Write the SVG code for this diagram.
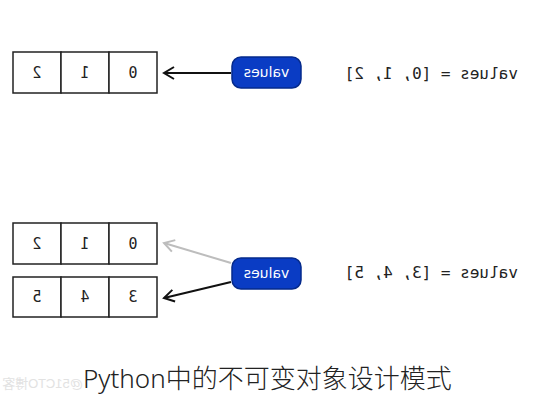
<svg xmlns="http://www.w3.org/2000/svg" width="533" height="400" viewBox="0 0 533 400">
<defs>
<style>
.cell{fill:#fff;stroke:#222;stroke-width:1.5}
.num{font-family:"DejaVu Sans Mono","Liberation Mono",monospace;font-size:15px;fill:#222;text-anchor:middle}
.code{font-family:"DejaVu Sans Mono","Liberation Mono",monospace;font-size:16px;fill:#222}
.pill{fill:#0a3cc4;stroke:#052a8c;stroke-width:1.5}
.pilltxt{font-family:"DejaVu Sans","Liberation Sans",sans-serif;font-size:14px;fill:#fff;text-anchor:middle}
.conn{fill:none;stroke-width:2}
</style>
<marker id="ahb" markerWidth="14" markerHeight="14" refX="11" refY="7" orient="auto" markerUnits="userSpaceOnUse">
<path d="M1,1 L11,7 L1,13" fill="none" stroke="#111" stroke-width="2"/>
</marker>
<marker id="ahg" markerWidth="14" markerHeight="14" refX="11" refY="7" orient="auto" markerUnits="userSpaceOnUse">
<path d="M1,1 L11,7 L1,13" fill="none" stroke="#bdbdbd" stroke-width="2"/>
</marker>
</defs>
<rect width="533" height="400" fill="#fff"/>

<g id="array-top">
<rect class="cell" x="13" y="52" width="48" height="41"/>
<rect class="cell" x="61" y="52" width="48" height="41"/>
<rect class="cell" x="109" y="52" width="48" height="41"/>
<g transform="scale(-1,1)">
<text class="num" x="-37" y="78">2</text>
<text class="num" x="-85" y="78">1</text>
<text class="num" x="-133" y="78">0</text>
</g>
</g>

<g id="values-top">
<rect class="pill" x="232" y="57" width="69" height="31" rx="9"/>
<text class="pilltxt" transform="scale(-1,1)" x="-266.5" y="77">values</text>
</g>

<g id="code-top">
<text class="code" transform="scale(-1,1)" x="-518" y="79">values = [0, 1, 2]</text>
</g>

<g id="array-mid">
<rect class="cell" x="13" y="223" width="48" height="41"/>
<rect class="cell" x="61" y="223" width="48" height="41"/>
<rect class="cell" x="109" y="223" width="48" height="41"/>
<g transform="scale(-1,1)">
<text class="num" x="-37" y="249">2</text>
<text class="num" x="-85" y="249">1</text>
<text class="num" x="-133" y="249">0</text>
</g>
</g>

<g id="array-bot">
<rect class="cell" x="13" y="277" width="48" height="40"/>
<rect class="cell" x="61" y="277" width="48" height="40"/>
<rect class="cell" x="109" y="277" width="48" height="40"/>
<g transform="scale(-1,1)">
<text class="num" x="-37" y="302">5</text>
<text class="num" x="-85" y="302">4</text>
<text class="num" x="-133" y="302">3</text>
</g>
</g>

<g id="values-bot">
<rect class="pill" x="232" y="258" width="69" height="31" rx="9"/>
<text class="pilltxt" transform="scale(-1,1)" x="-266.5" y="278">values</text>
</g>

<g id="code-bot">
<text class="code" transform="scale(-1,1)" x="-518" y="278">values = [3, 4, 5]</text>
</g>

<g id="connectors">
<line class="conn" x1="231" y1="73" x2="164" y2="73" stroke="#111" marker-end="url(#ahb)"/>
<line class="conn" x1="231" y1="263" x2="164" y2="243" stroke="#bdbdbd" marker-end="url(#ahg)"/>
<line class="conn" x1="231" y1="282" x2="164" y2="298" stroke="#111" marker-end="url(#ahb)"/>
</g>

<g id="watermark">
<text transform="scale(-1,1)" x="-83" y="388" font-family="'Liberation Sans','Noto Sans CJK SC',sans-serif" font-size="13" fill="#e2e2e2">@51CTO博客</text>
</g>

<g id="caption">
<text x="83" y="388" font-family="'Noto Sans','Noto Sans CJK SC',sans-serif" font-weight="300" font-size="26" fill="#222">Python中的不可变对象设计模式</text>
</g>
</svg>
